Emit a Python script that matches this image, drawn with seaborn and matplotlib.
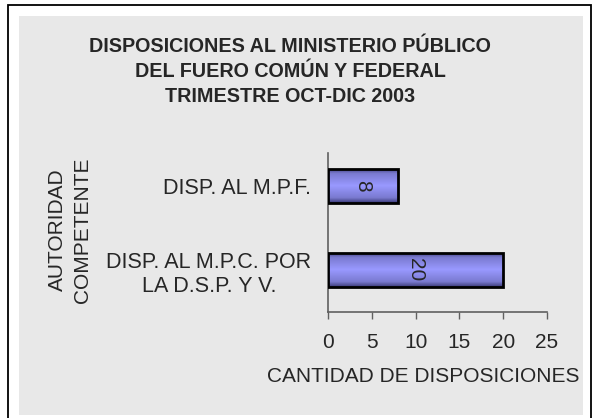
import numpy as np
import matplotlib
matplotlib.use("Agg")
import matplotlib.pyplot as plt
from matplotlib.patches import Rectangle
from matplotlib.colors import LinearSegmentedColormap
import seaborn as sns
import pandas as pd

# Datos
categorias = ["DISP. AL M.P.F.", "DISP. AL M.P.C. POR\nLA D.S.P. Y V."]
cantidades = [8, 20]
ticks_x = [0, 5, 10, 15, 20, 25]

titulo = "DISPOSICIONES AL MINISTERIO PÚBLICO\nDEL FUERO COMÚN Y FEDERAL\nTRIMESTRE OCT-DIC 2003"
etiqueta_x = "CANTIDAD DE DISPOSICIONES"
etiqueta_y = "AUTORIDAD\nCOMPETENTE"

sns.set_style("white")
plt.rcParams['font.family'] = ['Liberation Sans', 'DejaVu Sans']

W, H = 593, 418
fig = plt.figure(figsize=(W / 100, H / 100), dpi=100)
fig.patch.set_facecolor('white')

# fondo gris y marco
fig.patches.append(Rectangle((19 / W, 1 - 415 / H), (583 - 19) / W, (415 - 16) / H,
                             transform=fig.transFigure, facecolor='#e8e8e8',
                             edgecolor='none', zorder=-2))
fig.patches.append(Rectangle((8 / W, -0.1), (591 - 8) / W, 1.1 - 5 / H,
                             transform=fig.transFigure, facecolor='none',
                             edgecolor='black', linewidth=1.3, zorder=-1))

ax = fig.add_axes([328 / W, 1 - 312 / H, (547 - 328) / W, (312 - 153) / H])
ax.set_facecolor('none')

df = pd.DataFrame({'autoridad': categorias, 'cantidad': cantidades})
sns.barplot(data=df, x='cantidad', y='autoridad', orient='h', color='#9999ff',
            edgecolor='black', linewidth=2, width=0.405, ax=ax)

# degradado tipo Excel dentro de las barras
cmap = LinearSegmentedColormap.from_list('barra', [(0, '#3c3c78'), (0.15, '#7a7ad0'),
                                                   (0.5, '#9999ff'), (0.85, '#7a7ad0'),
                                                   (1, '#3c3c78')])
grad = np.linspace(0, 1, 100).reshape(-1, 1)
for p in ax.patches:
    b = p.get_bbox()
    p.set_facecolor('none')
    p.set_zorder(3)
    im = ax.imshow(grad, cmap=cmap, aspect='auto', extent=[b.x0, b.x1, b.y1, b.y0], zorder=2)
    im.set_clip_path(p)

ax.bar_label(ax.containers[0], labels=[str(v) for v in cantidades], label_type='center',
             rotation=-90, fontsize=15, zorder=4)

ax.set_xlim(0, 25)
ax.set_ylim(1.5, -0.393)
ax.set_xticks(ticks_x)
ax.set_xlabel('')
ax.set_ylabel('')
for s in ['top', 'right']:
    ax.spines[s].set_visible(False)
for s in ['left', 'bottom']:
    ax.spines[s].set_color('#606060')
    ax.spines[s].set_linewidth(1.2)
ax.tick_params(axis='x', direction='out', length=5, width=1, color='#606060',
               labelsize=15, pad=10, bottom=True)
ax.tick_params(axis='y', length=0, labelsize=15.5, pad=12)
for t in ax.get_yticklabels():
    t.set_multialignment('center')

fig.text(290 / W, 1 - 71.5 / H, titulo, ha='center', va='center', fontsize=14.2,
         fontweight='bold', linespacing=1.39)
fig.text(423 / W, 1 - 376 / H, etiqueta_x, ha='center', va='center', fontsize=15)
fig.text(70 / W, 1 - 230 / H, etiqueta_y, ha='center', va='center', fontsize=15,
         rotation=90, linespacing=1.35, multialignment='center')

plt.savefig('out.png', dpi=100)
